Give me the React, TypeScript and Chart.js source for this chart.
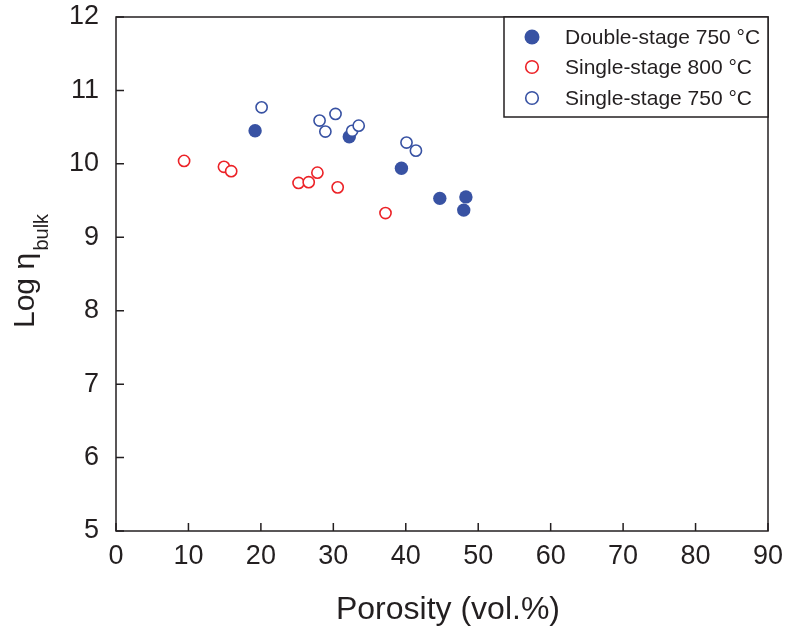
import { useEffect, useRef } from "react";
import { Chart, registerables } from "chart.js";

Chart.register(...registerables);

// ---- Data ----
const doubleStage750X = [19.2, 32.2, 39.4, 44.7, 48.3, 48.0];
const doubleStage750Y = [10.45, 10.37, 9.94, 9.53, 9.55, 9.37];

const singleStage800X = [9.4, 14.9, 15.9, 25.2, 26.6, 27.8, 30.6, 37.2];
const singleStage800Y = [10.04, 9.96, 9.9, 9.74, 9.75, 9.88, 9.68, 9.33];

const singleStage750X = [20.1, 28.1, 30.3, 28.9, 32.6, 33.5, 40.1, 41.4];
const singleStage750Y = [10.77, 10.59, 10.68, 10.44, 10.45, 10.52, 10.29, 10.18];

const seriesLabels = ["Double-stage 750 °C", "Single-stage 800 °C", "Single-stage 750 °C"];

const xTickValues = [0, 10, 20, 30, 40, 50, 60, 70, 80, 90];
const yTickValues = [5, 6, 7, 8, 9, 10, 11, 12];

const xTitle = "Porosity (vol.%)";
const yTitleMain = "Log η";
const yTitleSub = "bulk";

const BLUE = "#3852A3";
const RED = "#EC2227";
const INK = "#231F20";
const FONT = "'Liberation Sans', Arial, Helvetica, sans-serif";

function toPoints(xs: number[], ys: number[]) {
  return xs.map((x, i) => ({ x, y: ys[i] }));
}

const framePlugin = {
  id: "framePlugin",
  afterDraw(chart: any) {
    const { ctx, chartArea, scales } = chart;
    const { left, right, top, bottom } = chartArea;
    ctx.save();
    ctx.strokeStyle = INK;
    ctx.lineWidth = 1.5;
    ctx.strokeRect(left, top, right - left, bottom - top);
    // inward ticks
    ctx.beginPath();
    xTickValues.forEach((v) => {
      const px = scales.x.getPixelForValue(v);
      ctx.moveTo(px, bottom);
      ctx.lineTo(px, bottom - 8);
    });
    yTickValues.forEach((v) => {
      const py = scales.y.getPixelForValue(v);
      ctx.moveTo(left, py);
      ctx.lineTo(left + 8, py);
    });
    ctx.stroke();

    // legend box
    const lx0 = 504;
    const ly0 = top;
    const lx1 = right;
    const ly1 = 117;
    ctx.fillStyle = "#ffffff";
    ctx.fillRect(lx0, ly0, lx1 - lx0, ly1 - ly0);
    ctx.strokeRect(lx0, ly0, lx1 - lx0, ly1 - ly0);
    const rows = [37, 67, 98];
    chart.data.datasets.forEach((ds: any, i: number) => {
      const cy = rows[i];
      const cx = 532;
      ctx.beginPath();
      if (i === 0) {
        ctx.arc(cx, cy, 7.5, 0, Math.PI * 2);
        ctx.fillStyle = ds.backgroundColor;
        ctx.fill();
      } else {
        ctx.arc(cx, cy, 6.3, 0, Math.PI * 2);
        ctx.fillStyle = "#ffffff";
        ctx.fill();
        ctx.lineWidth = 1.6;
        ctx.strokeStyle = ds.borderColor;
        ctx.stroke();
      }
      ctx.fillStyle = INK;
      ctx.font = `21px ${FONT}`;
      ctx.textAlign = "left";
      ctx.textBaseline = "alphabetic";
      ctx.fillText(ds.label, 565, cy + 7);
    });

    // x title
    ctx.fillStyle = INK;
    ctx.font = `32px ${FONT}`;
    ctx.textAlign = "center";
    ctx.textBaseline = "alphabetic";
    ctx.fillText(xTitle, 448, 619);

    // y title (rotated, with subscript)
    ctx.save();
    ctx.translate(34, 328);
    ctx.rotate(-Math.PI / 2);
    ctx.textAlign = "left";
    ctx.font = `30px ${FONT}`;
    const mainW = ctx.measureText(yTitleMain + " ").width;
    ctx.fillText(yTitleMain, 0, 0);
    ctx.font = `20px ${FONT}`;
    ctx.fillText(yTitleSub, mainW - 6, 14);
    ctx.restore();

    ctx.restore();
  },
};

export default function App() {
  const canvasRef = useRef<HTMLCanvasElement | null>(null);

  useEffect(() => {
    if (!canvasRef.current) return;
    const chart = new Chart(canvasRef.current, {
      type: "scatter",
      data: {
        datasets: [
          {
            label: seriesLabels[0],
            data: toPoints(doubleStage750X, doubleStage750Y),
            backgroundColor: BLUE,
            borderColor: BLUE,
            borderWidth: 0,
            pointRadius: 6.7,
            pointHoverRadius: 6.7,
            order: 3,
          },
          {
            label: seriesLabels[1],
            data: toPoints(singleStage800X, singleStage800Y),
            backgroundColor: "#ffffff",
            borderColor: RED,
            borderWidth: 1.6,
            pointRadius: 5.6,
            pointHoverRadius: 5.6,
            order: 2,
          },
          {
            label: seriesLabels[2],
            data: toPoints(singleStage750X, singleStage750Y),
            backgroundColor: "#ffffff",
            borderColor: BLUE,
            borderWidth: 1.6,
            pointRadius: 5.6,
            pointHoverRadius: 5.6,
            order: 1,
          },
        ],
      },
      options: {
        responsive: false,
        animation: false,
        layout: { padding: { top: 17, right: 27, left: 0, bottom: 0 } },
        plugins: {
          legend: { display: false },
          tooltip: { enabled: false },
        },
        scales: {
          x: {
            type: "linear",
            min: 0,
            max: 90,
            grid: { display: false },
            border: { display: false },
            afterFit: (s: any) => {
              s.height = 99;
              s.paddingLeft = 0;
              s.paddingRight = 0;
            },
            afterBuildTicks: (s: any) => {
              s.ticks = xTickValues.map((v) => ({ value: v }));
            },
            ticks: {
              padding: 1,
              color: INK,
              font: { size: 27, family: FONT },
              maxRotation: 0,
            },
          },
          y: {
            type: "linear",
            min: 5,
            max: 12,
            grid: { display: false },
            border: { display: false },
            afterFit: (s: any) => {
              s.width = 116;
              s.paddingTop = 0;
              s.paddingBottom = 0;
            },
            afterBuildTicks: (s: any) => {
              s.ticks = yTickValues.map((v) => ({ value: v }));
            },
            ticks: {
              padding: 9,
              color: INK,
              font: { size: 27, family: FONT },
            },
          },
        },
      },
      plugins: [framePlugin],
    } as any);
    return () => chart.destroy();
  }, []);

  return (
    <div style={{ position: "absolute", left: 0, top: 0, width: 795, height: 630, background: "#fff" }}>
      <canvas ref={canvasRef} width={795} height={630} style={{ display: "block" }} />
    </div>
  );
}
